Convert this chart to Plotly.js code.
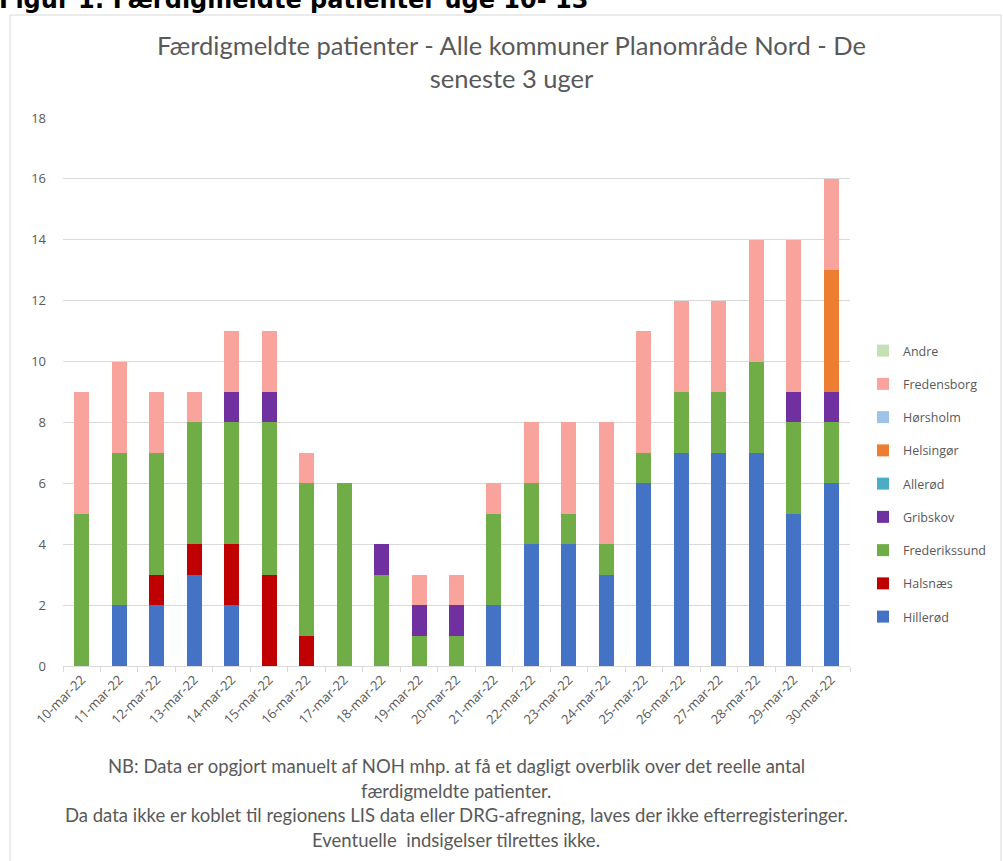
<!DOCTYPE html>
<html>
<head>
<meta charset="utf-8">
<script src="https://cdn.plot.ly/plotly-3.0.1.min.js"></script>
<style>
  html, body { margin: 0; padding: 0; background: #fff; }
  #chart { width: 1003px; height: 861px; }
</style>
</head>
<body>
<div id="chart"></div>
<script>
const categories = ["10-mar-22","11-mar-22","12-mar-22","13-mar-22","14-mar-22","15-mar-22","16-mar-22","17-mar-22","18-mar-22","19-mar-22","20-mar-22","21-mar-22","22-mar-22","23-mar-22","24-mar-22","25-mar-22","26-mar-22","27-mar-22","28-mar-22","29-mar-22","30-mar-22"];

const hillerod      = [0,2,2,3,2,0,0,0,0,0,0,2,4,4,3,6,7,7,7,5,6];
const halsnaes      = [0,0,1,1,2,3,1,0,0,0,0,0,0,0,0,0,0,0,0,0,0];
const frederikssund = [5,5,4,4,4,5,5,6,3,1,1,3,2,1,1,1,2,2,3,3,2];
const gribskov      = [0,0,0,0,1,1,0,0,1,1,1,0,0,0,0,0,0,0,0,1,1];
const allerod       = [0,0,0,0,0,0,0,0,0,0,0,0,0,0,0,0,0,0,0,0,0];
const helsingor     = [0,0,0,0,0,0,0,0,0,0,0,0,0,0,0,0,0,0,0,0,4];
const horsholm      = [0,0,0,0,0,0,0,0,0,0,0,0,0,0,0,0,0,0,0,0,0];
const fredensborg   = [4,3,2,1,2,2,1,0,0,1,1,1,2,3,4,4,3,3,4,5,3];
const andre         = [0,0,0,0,0,0,0,0,0,0,0,0,0,0,0,0,0,0,0,0,0];

const seriesNames = ["Hillerød","Halsnæs","Frederikssund","Gribskov","Allerød","Helsingør","Hørsholm","Fredensborg","Andre"];
const seriesValues = [hillerod, halsnaes, frederikssund, gribskov, allerod, helsingor, horsholm, fredensborg, andre];
const seriesColors = ["#4472C4","#C00000","#70AD47","#7030A0","#4BACC6","#ED7D31","#9DC3E6","#F8A39C","#C5E0B4"];

const yTicks = [0,2,4,6,8,10,12,14,16,18];

const titleText = "Færdigmeldte patienter - Alle kommuner Planområde Nord - De<br>seneste 3 uger";
const headerText = "Figur 1: Færdigmeldte patienter uge 10- 13";
const noteLines = [
  "NB: Data er opgjort manuelt af NOH mhp. at få et dagligt overblik over det reelle antal",
  "færdigmeldte patienter.",
  "Da data ikke er koblet til regionens LIS data eller DRG-afregning, laves der ikke efterregisteringer.",
  "Eventuelle  indsigelser tilrettes ikke."
];

const traces = seriesNames.map((name, i) => ({
  type: "bar",
  name: name,
  x: categories,
  y: seriesValues[i],
  legendgroup: name,
  legendrank: seriesNames.length - i,
  marker: { color: seriesColors[i], line: { width: 0 } },
  hoverinfo: "x+y+name"
}));

// plot area in pixels
const L = 63, R = 850, T = 118, B = 666, W = 1003, H = 861;
const pw = R - L, ph = B - T;
const px2x = p => (p - L) / pw;
const py2y = p => (B - p) / ph;

const annotations = [
  {
    text: "<b>" + headerText + "</b>",
    xref: "paper", yref: "paper",
    x: px2x(-3), y: py2y(-16),
    xanchor: "left", yanchor: "top",
    showarrow: false,
    font: { family: "DejaVu Sans", size: 24, color: "#000000" }
  }
];
const noteY = [766, 791, 815, 840];
noteLines.forEach((t, i) => {
  annotations.push({
    text: t,
    xref: "paper", yref: "paper",
    x: px2x(456), y: py2y(noteY[i]),
    xanchor: "center", yanchor: "middle",
    showarrow: false,
    font: { family: "Lato", size: 18.5, color: "#595959" }
  });
});

const layout = {
  width: W, height: H,
  margin: { l: L, r: W - R, t: T, b: H - B, pad: 0, autoexpand: false },
  paper_bgcolor: "#ffffff",
  plot_bgcolor: "#ffffff",
  barmode: "stack",
  bargap: 0.6,
  font: { family: "Open Sans", color: "#595959" },
  title: {
    text: titleText,
    x: 0.510, xanchor: "center",
    y: 1 - 55 / H, yanchor: "middle",
    font: { family: "Lato", size: 25.5, color: "#595959" }
  },
  xaxis: {
    type: "category",
    tickangle: -45,
    tickfont: { family: "Open Sans", size: 13, color: "#595959" },
    ticks: "outside",
    tickson: "boundaries",
    ticklen: 5,
    tickcolor: "#d9d9d9",
    showline: true,
    linecolor: "#d9d9d9",
    linewidth: 1,
    showgrid: false,
    zeroline: false,
    fixedrange: true
  },
  yaxis: {
    range: [0, 18],
    tickvals: yTicks,
    ticktext: yTicks.map(String),
    tickfont: { family: "Open Sans", size: 13, color: "#595959" },
    showgrid: true,
    gridcolor: "#d9d9d9",
    gridwidth: 1,
    zeroline: false,
    showline: false,
    ticks: "",
    ticklabelstandoff: 16,
    fixedrange: true
  },
  legend: {
    x: px2x(863), xanchor: "left",
    y: py2y(336), yanchor: "top",
    traceorder: "grouped",
    tracegroupgap: 14,
    font: { family: "Open Sans", size: 12.5, color: "#595959" },
    itemwidth: 30,
    bgcolor: "rgba(0,0,0,0)"
  },
  shapes: [
    {
      type: "rect", xref: "paper", yref: "paper",
      x0: px2x(10), x1: px2x(1001), y0: py2y(870), y1: py2y(15),
      line: { color: "#d9d9d9", width: 1 },
      fillcolor: "rgba(0,0,0,0)",
      layer: "below"
    }
  ],
  annotations: annotations
};

Plotly.newPlot("chart", traces, layout, { displayModeBar: false, staticPlot: true });
</script>
</body>
</html>
